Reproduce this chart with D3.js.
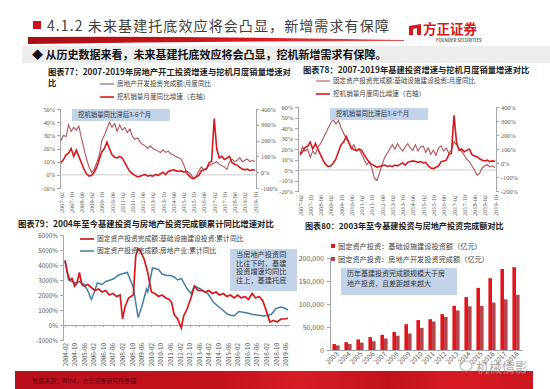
<!DOCTYPE html>
<html>
<head>
<meta charset="utf-8">
<script src="https://cdn.jsdelivr.net/npm/d3@7"></script>
<style>
  body { margin: 0; background: #fff; }
  svg text { font-family: "Noto Sans CJK SC", "Noto Sans", sans-serif; }
  .serif .tick text { font-family: "Liberation Serif", serif; }
  .axis path, .axis line { stroke: #a6a6a6; shape-rendering: crispEdges; }
  .axis text { fill: #595959; }
</style>
</head>
<body>
<div id="chart"></div>
<script>
// ---- data ----
const monthlyStart = "2007-02";   // monthly YoY series, one value every 2 months
const monthlyEnd = "2019-10";

const monthTicks = ["2007-02","2007-10","2008-06","2009-02","2009-10","2010-06","2011-02","2011-10",
  "2012-06","2013-02","2013-10","2014-06","2015-02","2015-10","2016-06","2017-02","2017-10",
  "2018-06","2019-02","2019-10"];

// 房地产开发投资完成额:月度同比 (%)
const realEstateYoY = [
  26, 30, 29, 38, 33, 36,
  34, 37, 28, 20, 12, 6,
  2, 4, 9, 15, 26, 30,
  35, 40, 36, 39, 33, 38,
  34, 36, 32, 35, 29, 27,
  28, 25, 23, 22, 20, 22,
  20, 19, 18, 17, 19, 17,
  18, 16, 15, 14, 13, 12,
  8, 3, 2, 0, -3, -1,
  3, 6, 4, 5, 7, 8,
  9, 10, 8, 7, 6, 4,
  10, 12, 10, 11, 13, 10,
  11, 12, 10, 11, 10];

// 挖机销量月度同比增速 (%)
const excavatorYoY = [
  60, 80, 110, 120, 150, 100,
  140, 100, 60, 20, -10, -25,
  -20, 0, 30, 80, 130, 150,
  190, 150, 110, 95, 90, 100,
  90, 60, 30, 5, -10, -20,
  -30, -25, -20, -15, -25, -20,
  -25, -15, -20, -10, 0, -15,
  5, 10, 15, 10, 5, 10,
  0, 5, -20, -35, -40, -30,
  -20, 10, 15, 20, 60, 70,
  340, 150, 90, 100, 80, 90,
  100, 60, 50, 45, 30, 20,
  15, 20, 10, 15, 12];

// 固定资产投资完成额:基础设施建设投资:月度同比 (%)
const infraYoY = [
  15, 22, 18, 20, 12, 18,
  15, 22, 25, 30, 35, 40,
  45, 48, 44, 47, 40, 35,
  30, 26, 20, 24, 18, 20,
  15, 10, 5, 8, 2, -8,
  -10, -3, 5, 12, 16, 20,
  24, 20, 25, 21, 18, 22,
  25, 21, 19, 24, 18, 22,
  23, 17, 21, 15, 19, 14,
  21, 23, 18, 21, 16, 19,
  27, 24, 20, 18, 14, 10,
  8, 4, 0, -5, -3, 2,
  4, 5, 3, 4, 2];

// chart 79: cumulative YoY (as printed on the chart, %)
const cumTicks = ["2004-02","2004-10","2005-06","2006-02","2006-10","2007-06","2008-02","2008-10",
  "2009-06","2010-02","2010-10","2011-06","2012-02","2012-10","2013-06","2014-02","2014-10",
  "2015-06","2016-02","2016-10","2017-06","2018-02","2018-10","2019-06"];

const infraCum = [
  ["2004-02",4300],["2004-04",3500],["2004-06",3000],["2004-08",3100],["2004-10",2600],["2004-12",2800],
  ["2005-02",3500],["2005-04",2700],["2005-06",2600],["2005-09",2700],["2005-12",2500],["2006-03",2300],
  ["2006-06",2400],["2006-09",2200],["2006-12",2300],["2007-03",2000],["2007-06",2100],["2007-09",1900],
  ["2007-12",2000],["2008-02",400],["2008-04",1200],["2008-07",1800],["2008-11",2000],["2009-01",4600],
  ["2009-03",5100],["2009-05",4900],["2009-08",4400],["2009-11",3500],["2010-02",2200],["2010-05",2100],
  ["2010-08",1900],["2010-11",2000],["2011-02",1800],["2011-05",1700],["2011-07",1500],["2011-09",700],
  ["2011-12",400],["2012-03",-200],["2012-05",600],["2012-08",1100],["2012-11",1800],["2013-02",2600],
  ["2013-05",2300],["2013-08",2300],["2013-11",2200],["2014-02",2300],["2014-05",2100],["2014-08",2200],
  ["2014-11",2000],["2015-02",2100],["2015-05",1900],["2015-08",2000],["2015-11",1800],["2016-02",2000],
  ["2016-05",1800],["2016-08",1900],["2016-11",1700],["2017-02",2100],["2017-05",1800],["2017-08",1900],
  ["2017-11",1600],["2018-02",900],["2018-05",200],["2018-08",300],["2018-11",200],["2019-02",400],
  ["2019-05",400],["2019-08",450]];

const realEstateCum = [
  ["2004-02",4300],["2004-05",3000],["2004-08",2900],["2004-11",2800],["2005-02",2900],["2005-06",2700],
  ["2005-09",2300],["2005-12",1700],["2006-02",2100],["2006-05",2800],["2006-09",2700],["2006-12",2900],
  ["2007-04",3000],["2007-07",3100],["2007-10",3300],["2008-01",3400],["2008-06",3500],["2008-07",3300],
  ["2008-11",2500],["2009-03",500],["2009-06",1200],["2009-08",1800],["2009-10",2400],["2009-11",2200],
  ["2010-03",3800],["2010-08",3700],["2010-11",3400],["2011-03",3300],["2011-06",3300],["2011-09",3200],
  ["2011-12",3000],["2012-03",3100],["2012-08",2400],["2012-11",2100],["2013-02",2600],["2013-07",2400],
  ["2014-01",2100],["2014-06",1500],["2014-12",1100],["2015-06",700],["2015-11",600],["2016-03",900],
  ["2016-10",800],["2017-03",700],["2017-12",600],["2018-06",700],["2018-10",1100],["2019-02",1200],
  ["2019-06",1100],["2019-08",1000]];

// chart 80: annual investment (亿元)
const years80 = ["2003","2004","2005","2006","2007","2008","2009","2010","2011","2012","2013","2014","2015","2016","2017","2018"];
const infraInvest = [13000,17000,23000,28000,33000,39000,56000,65000,67000,78000,96000,115000,135000,156000,176000,180000];
const realEstateInvest = [10000,13000,16000,19000,25000,31000,36000,48000,62000,72000,86000,95000,96000,103000,110000,120000];

// ---- drawing ----
const parseMonth = d3.timeParse("%Y-%m");
const fmtMonth = d3.timeFormat("%Y-%m");
const RED = "#d7191c", MUTED = "#b05457", BLUE = "#457fa5", BOX = "#c3d4ea";

const svg = d3.select("#chart").append("svg").attr("width", 550).attr("height", 389);
const defs = svg.append("defs");

// header
const sw = defs.append("linearGradient").attr("id", "swoosh");
sw.append("stop").attr("offset", 0).attr("stop-color", "#a80d12");
sw.append("stop").attr("offset", 0.6).attr("stop-color", "#d51a20");
sw.append("stop").attr("offset", 1).attr("stop-color", "#e8555a");

svg.append("rect").attr("x", 33).attr("y", 21).attr("width", 8).attr("height", 8).attr("fill", "#c8151d");
svg.append("text").attr("x", 47).attr("y", 31).attr("font-size", 14).attr("fill", "#404040")
  .attr("letter-spacing", 1.1)
  .text("4.1.2 未来基建托底效应将会凸显，新增需求有保障");
svg.append("path").attr("d", "M28,37 Q210,36 404,40 L404,41 Q210,41 28,44 Z").attr("fill", "url(#swoosh)");

// logo
svg.append("path").attr("d", "M409,26 L421,24 L421,35 L417,35 L417,28 L413,29 L413,35 L409,35 Z").attr("fill", RED);
svg.append("text").attr("x", 423).attr("y", 33.5).attr("font-size", 13.5).attr("font-weight", "bold")
  .attr("fill", RED).text("方正证券");
svg.append("text").attr("x", 436).attr("y", 42).attr("font-size", 4.2).attr("font-weight", "bold")
  .attr("fill", "#666").text("FOUNDER SECURITIES");

svg.append("rect").attr("x", 22).attr("y", 46).attr("width", 528).attr("height", 17).attr("fill", "#ededed");
svg.append("text").attr("x", 32).attr("y", 58.5).attr("font-size", 11).attr("font-weight", "bold")
  .attr("fill", "#111").text("◆ 从历史数据来看，未来基建托底效应将会凸显，挖机新增需求有保障。");

function styleAxis(sel, size) {
  sel.attr("class", "axis");
  sel.selectAll("text").attr("font-size", size);
}

function legendLine(x, y, color, width, label, size) {
  svg.append("line").attr("x1", x).attr("x2", x + 14).attr("y1", y).attr("y2", y)
    .attr("stroke", color).attr("stroke-width", width);
  svg.append("text").attr("x", x + 17).attr("y", y + 2.3).attr("font-size", size)
    .attr("fill", "#404040").text(label);
}

function noteBox(x, y, w, h, lines, size, lineH) {
  svg.append("rect").attr("x", x).attr("y", y).attr("width", w).attr("height", h).attr("fill", BOX);
  lines.forEach((t, i) => {
    svg.append("text").attr("x", x + 6).attr("y", y + 8 + i * lineH).attr("font-size", size)
      .attr("fill", "#333").text(t);
  });
}

// dual axis monthly panel (charts 77, 78)
function dualPanel(o) {
  const start = parseMonth(monthlyStart);
  const dates = o.left.map((v, i) => d3.timeMonth.offset(start, 2 * i));
  const x = d3.scaleTime().domain([start, parseMonth(monthlyEnd)]).range(o.xr);
  const yl = d3.scaleLinear().domain(o.ld).range(o.yr);
  const yr = d3.scaleLinear().domain(o.rd).range(o.yr);
  const g = svg.append("g").attr("class", "serif");

  g.append("line").attr("x1", o.axL).attr("x2", o.axR).attr("y1", yl(0)).attr("y2", yl(0))
    .attr("stroke", "#bfbfbf").attr("stroke-width", 0.8);

  g.append("g").attr("transform", `translate(${o.axL},0)`)
    .call(d3.axisLeft(yl).tickValues(d3.range(o.ld[0], o.ld[1] + 1, o.lstep)).tickSize(3).tickPadding(2)
      .tickFormat(d => d + "%"))
    .call(s => styleAxis(s, 6.3));
  g.append("g").attr("transform", `translate(${o.axR},0)`)
    .call(d3.axisRight(yr).tickValues(d3.range(o.rd[0], o.rd[1] + 1, 100)).tickSize(3).tickPadding(2)
      .tickFormat(d => d + "%"))
    .call(s => styleAxis(s, 6.3));

  const xa = g.append("g").attr("transform", `translate(0,${o.yr[0]})`)
    .call(d3.axisBottom(x).tickValues(monthTicks.map(parseMonth)).tickSize(0).tickFormat(fmtMonth))
    .call(s => styleAxis(s, 6.3));
  xa.select(".domain").remove();
  xa.selectAll("text").attr("transform", "rotate(-90)").attr("x", -4).attr("y", 0)
    .attr("dy", "0.32em").style("text-anchor", "end");

  g.append("path").datum(o.left).attr("fill", "none").attr("stroke", MUTED).attr("stroke-width", 1.1)
    .attr("d", d3.line().x((d, i) => x(dates[i])).y(d => yl(d)));
  g.append("path").datum(o.right).attr("fill", "none").attr("stroke", RED).attr("stroke-width", 1.6)
    .attr("d", d3.line().x((d, i) => x(dates[i])).y(d => yr(d)));
}

// chart 77
svg.append("text").attr("x", 48).attr("y", 75).attr("font-size", 8.3).attr("font-weight", "bold")
  .attr("fill", "#222").text("图表77：2007-2019年房地产开工投资增速与挖机月度销量增速对");
svg.append("text").attr("x", 48).attr("y", 86).attr("font-size", 8.3).attr("font-weight", "bold")
  .attr("fill", "#222").text("比");
legendLine(100, 84, MUTED, 1.1, "房地产开发投资完成额:月度同比", 6.6);
legendLine(100, 97, RED, 1.6, "挖机销量月度同比增速（右轴）", 6.6);
dualPanel({ left: realEstateYoY, right: excavatorYoY, xr: [61, 255], axL: 60, axR: 256,
  yr: [188, 109], ld: [-10, 50], lstep: 10, rd: [-100, 400] });
noteBox(72, 109, 98, 12, ["挖机销量同比滞后3-6个月"], 6.4, 0);

// chart 78
svg.append("text").attr("x", 303).attr("y", 73).attr("font-size", 8.3).attr("font-weight", "bold")
  .attr("fill", "#222").text("图表78：2007-2019年基建投资增速与挖机月度销量增速对比");
legendLine(316, 81, MUTED, 1.1, "固定资产投资完成额:基础设施建设投资:月度同比", 6.6);
legendLine(316, 94, RED, 1.6, "挖机销量月度同比增速（右轴）", 6.6);
dualPanel({ left: infraYoY, right: excavatorYoY, xr: [300, 495], axL: 298, axR: 496,
  yr: [191, 107], ld: [-20, 60], lstep: 10, rd: [-200, 400] });
noteBox(330, 108, 98, 12, ["挖机销量同比滞后3-6个月"], 6.4, 0);

// chart 79
(function () {
  svg.append("text").attr("x", 18).attr("y", 227).attr("font-size", 8.4).attr("font-weight", "bold")
    .attr("fill", "#222").text("图表79：2004年至今基建投资与房地产投资完成额累计同比增速对比");
  const x = d3.scaleTime().domain([parseMonth("2004-02"), parseMonth("2019-08")]).range([65, 288]);
  const y = d3.scaleLinear().domain([-1000, 6000]).range([340, 235]);
  const g = svg.append("g");

  g.append("g").attr("transform", "translate(63,0)")
    .call(d3.axisLeft(y).tickValues(d3.range(-1000, 6001, 1000)).tickSize(3).tickPadding(2)
      .tickFormat(d => d + "%"))
    .call(s => styleAxis(s, 6.3));
  g.append("g").attr("transform", `translate(0,${y(0)})`)
    .call(d3.axisBottom(x).tickValues(cumTicks.map(parseMonth)).tickSize(2).tickFormat(""))
    .call(s => styleAxis(s, 6.3))
    .select(".domain").attr("d", `M63,0H290`);
  const xa = g.append("g").attr("transform", "translate(0,340)")
    .call(d3.axisBottom(x).tickValues(cumTicks.map(parseMonth)).tickSize(0).tickFormat(fmtMonth))
    .call(s => styleAxis(s, 6.3));
  xa.select(".domain").remove();
  xa.selectAll("text").attr("transform", "rotate(-90)").attr("x", -3).attr("y", 0)
    .attr("dy", "0.32em").style("text-anchor", "end");

  const line = d3.line().x(d => x(parseMonth(d[0]))).y(d => y(d[1]));
  g.append("path").datum(realEstateCum).attr("fill", "none").attr("stroke", BLUE).attr("stroke-width", 1.5).attr("d", line);
  g.append("path").datum(infraCum).attr("fill", "none").attr("stroke", RED).attr("stroke-width", 1.7).attr("d", line);

  legendLine(80, 239, RED, 1.7, "固定资产投资完成额:基础设施建设投资:累计同比", 6.8);
  legendLine(80, 251, BLUE, 1.5, "固定资产投资完成额:房地产业:累计同比", 6.8);
  noteBox(230, 249, 67, 42, ["当房地产投资同", "比往下时，基建", "投资增速均同比", "往上，基建托底"], 7.2, 8.6);
})();

// chart 80
(function () {
  svg.append("text").attr("x", 305).attr("y", 229).attr("font-size", 8.1).attr("font-weight", "bold")
    .attr("fill", "#222").text("图表80：2003年至今基建投资与房地产投资完成额对比");
  const x = d3.scaleBand().domain(years80).range([330, 522]).paddingInner(0.4).paddingOuter(0.2);
  const y = d3.scaleLinear().domain([0, 200000]).range([350, 258]);
  const g = svg.append("g");

  g.append("g").attr("transform", "translate(330,0)")
    .call(d3.axisLeft(y).tickValues(d3.range(0, 200001, 50000)).tickSize(3).tickPadding(3))
    .call(s => styleAxis(s, 7));
  const xa = g.append("g").attr("transform", "translate(0,350)")
    .call(d3.axisBottom(x).tickSize(0).tickSizeOuter(0))
    .call(s => styleAxis(s, 6.6));
  xa.selectAll("text").attr("transform", "rotate(-45)").attr("x", -1).attr("y", 3)
    .attr("dy", "0.35em").style("text-anchor", "end");

  const bw = x.bandwidth() / 2;
  g.selectAll(".infra").data(years80).join("rect").attr("class", "infra")
    .attr("x", d => x(d)).attr("width", bw)
    .attr("y", (d, i) => y(infraInvest[i])).attr("height", (d, i) => 350 - y(infraInvest[i]))
    .attr("fill", "#e3141b");
  g.selectAll(".re").data(years80).join("rect").attr("class", "re")
    .attr("x", d => x(d) + bw).attr("width", bw)
    .attr("y", (d, i) => y(realEstateInvest[i])).attr("height", (d, i) => 350 - y(realEstateInvest[i]))
    .attr("fill", "#b4474b");

  [["#e3141b", "固定资产投资：基础设施建设投资额（亿元）", 249], ["#b4474b", "固定资产投资：房地产开发投资完成额（亿元）", 262]]
    .forEach(([c, t, yy]) => {
      svg.append("rect").attr("x", 331).attr("y", yy - 5).attr("width", 4).attr("height", 4).attr("fill", c);
      svg.append("text").attr("x", 338).attr("y", yy).attr("font-size", 7.2).attr("fill", "#404040").text(t);
    });
  noteBox(341, 268, 116, 27, ["历年基建投资完成额规模大于房", "地产投资，且差距越来越大"], 7, 9.6);
})();

// footer band
const fg = defs.append("linearGradient").attr("id", "foot");
[[0, "#b90f1b"], [0.4, "#c4121c"], [0.55, "#d81c24"], [0.72, "#c1121b"], [0.85, "#d71a22"], [1, "#cc151e"]]
  .forEach(([o, c]) => fg.append("stop").attr("offset", o).attr("stop-color", c));
svg.append("rect").attr("x", 15).attr("y", 371).attr("width", 518).attr("height", 18).attr("fill", "url(#foot)");
svg.append("text").attr("x", 32).attr("y", 383).attr("font-size", 6).attr("fill", "#5a0b0b")
  .text("数据来源：Wind，方正证券研究所整理");

// watermark
svg.append("ellipse").attr("cx", 466).attr("cy", 366).attr("rx", 6).attr("ry", 5)
  .attr("fill", "none").attr("stroke", "#aaa").attr("stroke-width", 1.2).attr("opacity", 0.8);
svg.append("text").attr("x", 476).attr("y", 372).attr("font-size", 13).attr("fill", "#a0a0a0")
  .attr("opacity", 0.85).text("机械情影");
</script>
</body>
</html>
